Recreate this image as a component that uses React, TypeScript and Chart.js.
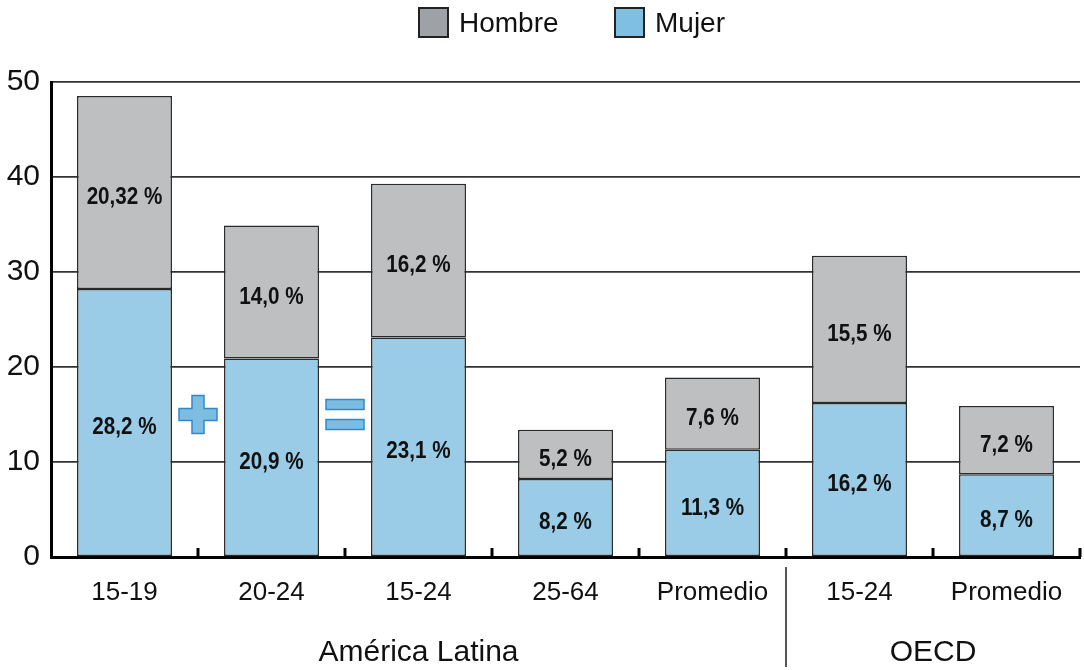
import React, { useEffect, useRef } from 'react';
import { Chart, registerables } from 'chart.js';

Chart.register(...registerables);

const categories = ['15-19', '20-24', '15-24', '25-64', 'Promedio', '15-24', 'Promedio'];
const groupNames = ['América Latina', 'OECD'];
const groupSizes = [5, 2];
const mujer = [28.2, 20.9, 23.1, 8.2, 11.3, 16.2, 8.7];
const hombre = [20.32, 14.0, 16.2, 5.2, 7.6, 15.5, 7.2];
const mujerLabels = ['28,2 %', '20,9 %', '23,1 %', '8,2 %', '11,3 %', '16,2 %', '8,7 %'];
const hombreLabels = ['20,32 %', '14,0 %', '16,2 %', '5,2 %', '7,6 %', '15,5 %', '7,2 %'];
const yMin = 0;
const yMax = 50;
const yStep = 10;
// symbols drawn between categories: after index, at value
const symbolKinds = ['plus', 'equals'];
const symbolAfterIndex = [0, 1];
const symbolValue = 15;

const SANS = "'Liberation Sans', Arial, sans-serif";

const GRAY = '#bebfc1';
const BLUE = '#9acbe7';
const LEG_GRAY = '#9ea1a6';
const LEG_BLUE = '#7fbfe2';

const decorPlugin = {
  id: 'decor',
  afterDatasetsDraw(chart: any) {
    const ctx = chart.ctx;
    const x = chart.scales.x;
    const y = chart.scales.y;
    const area = chart.chartArea;
    const n = categories.length;
    const half = (x.getPixelForValue(1) - x.getPixelForValue(0)) / 2;

    // data labels (slightly condensed bold)
    const labelSets = [mujerLabels, hombreLabels];
    chart.data.datasets.forEach((ds: any, di: number) => {
      const meta = chart.getDatasetMeta(di);
      meta.data.forEach((el: any, i: number) => {
        const cy = (el.y + el.base) / 2 + 5;
        ctx.save();
        ctx.translate(el.x, cy);
        ctx.scale(0.86, 1);
        ctx.fillStyle = '#111';
        ctx.font = `bold 24px ${SANS}`;
        ctx.textAlign = 'center';
        ctx.textBaseline = 'middle';
        ctx.fillText(labelSets[di][i], 0, 0);
        ctx.restore();
      });
    });

    // symbols
    ctx.save();
    symbolKinds.forEach((kind, k) => {
      const i = symbolAfterIndex[k];
      const cx = x.getPixelForValue(i) + half;
      const cy = y.getPixelForValue(symbolValue);
      ctx.fillStyle = '#7dbde2';
      ctx.strokeStyle = '#2f8acb';
      ctx.lineWidth = 1.5;
      if (kind === 'plus') {
        const L = 19, W = 6;
        ctx.beginPath();
        ctx.moveTo(cx - W, cy - L);
        ctx.lineTo(cx + W, cy - L);
        ctx.lineTo(cx + W, cy - W);
        ctx.lineTo(cx + L, cy - W);
        ctx.lineTo(cx + L, cy + W);
        ctx.lineTo(cx + W, cy + W);
        ctx.lineTo(cx + W, cy + L);
        ctx.lineTo(cx - W, cy + L);
        ctx.lineTo(cx - W, cy + W);
        ctx.lineTo(cx - L, cy + W);
        ctx.lineTo(cx - L, cy - W);
        ctx.lineTo(cx - W, cy - W);
        ctx.closePath();
        ctx.fill();
        ctx.stroke();
      } else {
        const L = 19, H = 10;
        ctx.fillRect(cx - L, cy - 15, 2 * L, H);
        ctx.strokeRect(cx - L, cy - 15, 2 * L, H);
        ctx.fillRect(cx - L, cy + 5, 2 * L, H);
        ctx.strokeRect(cx - L, cy + 5, 2 * L, H);
      }
    });
    ctx.restore();

    // inward ticks on x axis at category boundaries
    ctx.save();
    ctx.strokeStyle = '#000';
    ctx.lineWidth = 3;
    for (let i = 0; i < n; i++) {
      const bx = x.getPixelForValue(i) + half;
      ctx.beginPath();
      ctx.moveTo(bx, area.bottom);
      ctx.lineTo(bx, area.bottom - 9);
      ctx.stroke();
    }
    ctx.restore();

    // group separators and labels
    ctx.save();
    ctx.font = `30px ${SANS}`;
    ctx.fillStyle = '#111';
    ctx.textAlign = 'center';
    ctx.textBaseline = 'middle';
    let start = 0;
    groupSizes.forEach((size, g) => {
      const first = x.getPixelForValue(start);
      const last = x.getPixelForValue(start + size - 1);
      ctx.fillText(groupNames[g], (first + last) / 2, area.bottom + 96);
      if (g > 0) {
        const sx = first - half;
        ctx.strokeStyle = '#555';
        ctx.lineWidth = 2;
        ctx.beginPath();
        ctx.moveTo(sx, area.bottom + 10);
        ctx.lineTo(sx, area.bottom + 110);
        ctx.stroke();
      }
      start += size;
    });
    ctx.restore();
  },
};

export default function App() {
  const canvasRef = useRef<HTMLCanvasElement | null>(null);

  useEffect(() => {
    if (!canvasRef.current) return;
    const chart = new Chart(canvasRef.current, {
      type: 'bar',
      data: {
        labels: categories,
        datasets: [
          {
            label: 'Mujer',
            data: mujer,
            backgroundColor: BLUE,
            borderColor: '#2a2a2a',
            borderWidth: 1.5,
            borderSkipped: false,
            barPercentage: 0.646,
            categoryPercentage: 1,
          },
          {
            label: 'Hombre',
            data: hombre,
            backgroundColor: GRAY,
            borderColor: '#2a2a2a',
            borderWidth: 1.5,
            borderSkipped: false,
            barPercentage: 0.646,
            categoryPercentage: 1,
          },
        ],
      },
      options: {
        responsive: false,
        animation: false,
        devicePixelRatio: 1,
        layout: { padding: { top: 82, right: 4, left: 0, bottom: 0 } },
        plugins: {
          legend: { display: false },
          tooltip: { enabled: false },
        },
        scales: {
          x: {
            stacked: true,
            grid: { display: false },
            border: { display: true, color: '#000', width: 3 },
            ticks: {
              color: '#111',
              font: { family: SANS, size: 26 },
              padding: 12,
              maxRotation: 0,
              autoSkip: false,
            },
            afterFit(scale: any) {
              scale.height = 113;
            },
          },
          y: {
            stacked: true,
            min: yMin,
            max: yMax,
            grid: { color: '#333', lineWidth: 1.8, drawTicks: false },
            border: { display: true, color: '#000', width: 3 },
            ticks: {
              stepSize: yStep,
              color: '#111',
              font: { family: SANS, size: 30 },
              padding: 11,
            },
            afterFit(scale: any) {
              scale.width = 51;
            },
          },
        },
      },
      plugins: [decorPlugin],
    });
    return () => chart.destroy();
  }, []);

  const box = (color: string) => ({
    display: 'inline-block',
    width: 27,
    height: 27,
    border: '2px solid #222',
    background: color,
    boxSizing: 'content-box' as const,
  });

  return (
    <div style={{ position: 'absolute', left: 0, top: 0, width: 1084, height: 670, background: '#fff' }}>
      <canvas ref={canvasRef} width={1084} height={670} style={{ position: 'absolute', left: 0, top: 0 }} />
      <div style={{ position: 'absolute', left: 418, top: 7, height: 31, display: 'flex', alignItems: 'center', fontFamily: SANS, fontSize: 28, color: '#111' }}>
        <span style={box(LEG_GRAY)} />
        <span style={{ marginLeft: 10 }}>Hombre</span>
      </div>
      <div style={{ position: 'absolute', left: 614, top: 7, height: 31, display: 'flex', alignItems: 'center', fontFamily: SANS, fontSize: 28, color: '#111' }}>
        <span style={box(LEG_BLUE)} />
        <span style={{ marginLeft: 10 }}>Mujer</span>
      </div>
    </div>
  );
}
